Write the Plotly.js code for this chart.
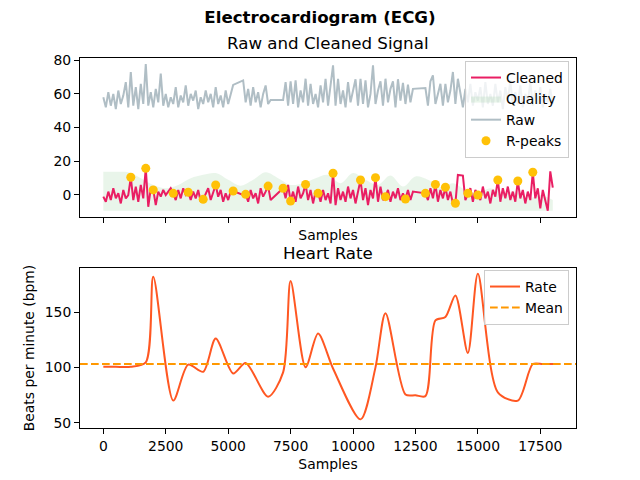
<!DOCTYPE html>
<html>
<head>
<meta charset="utf-8">
<script src="https://cdn.plot.ly/plotly-3.0.1.min.js"></script>
<style>html,body{margin:0;padding:0;background:#fff}#chart{width:640px;height:480px}</style>
</head>
<body>
<div id="chart"></div>
<script>
// ---------------- data ----------------
const sampleX = [0,100,200,300,400,500,600,700,800,900,
  1000,1100,1200,1300,1400,1500,1600,1700,1800,1900,
  2000,2100,2200,2300,2400,2500,2600,2700,2800,2900,
  3000,3100,3200,3300,3400,3500,3600,3700,3800,3900,
  4000,4100,4200,4300,4400,4500,4600,4700,4800,4900,
  5000,5100,5200,5600,5700,5800,5900,6000,6100,6200,
  6300,6400,6500,6600,6700,7200,7300,7400,7500,7600,
  7700,7800,7900,8000,8100,8200,8300,8400,8500,8600,
  8700,8800,8900,9000,9100,9200,9300,9400,9500,9600,
  9700,9800,9900,10000,10100,10200,10300,10400,10500,10600,
  10700,10800,10900,11000,11100,11200,11300,11400,11500,11600,
  11700,11800,11900,12000,12100,12200,12300,12400,12900,13000,
  13100,13200,13300,13400,13500,13600,13700,13800,13900,14000,
  14100,14200,14400,14500,14600,14700,14800,14900,15000,15100,
  15200,15300,15400,15500,15600,15700,15800,15900,16000,16100,
  16200,16300,16400,16500,16600,16700,16800,16900,17000,17100,
  17200,17300,17400,17500,17600,17700,17800,17900,18000];

const rawSignal = [58,52,61,53,60,51,62,54,59,67,
  52,73,53,64,51,66,54,77.7,53,61,
  52,63,55,72,53,60,52,58,54,64,
  52,59,55,65,53,60,56,62,51,58,
  54,62,55,60,52,64,54,59,52,62,
  54,60,65.3,68,55,63,53,64,55,61,
  52,60,65,54,56.4,56.4,67,53,67.5,54,
  68,52,62,55,69,53,66,54,60,52,
  65,55,69,53,66,77,53,69,54,62,
  52,67,55,61,68.7,53,69,54,68,52,
  60,77,54,62,67.5,53,69,55,63,67.5,
  52,68.7,56,66.5,54,65.5,55,63,63.5,53,
  67.5,71,54,60,66,53,66,55,62,73,
  54,69,52,63,55,66,53,61,56,64,
  52,67,54,60,53,66,55,62,51,64,
  56,68,53,61,54,65,52,60,55,67,
  53,62,54,64,52,60,55,63,54];

const cleanSignal = [-1,-4,2,-3,4,-2,1,-5,3,-2,
  0,10.5,-3,5,-4,6,-2,15.8,-7,4,
  3,-6,2,-1,3,0,2,4,1,-3,
  3,-2,4,0,1.6,-3,2,-2,3,-4,
  -2.6,1,4,-3,2,5.9,-1,3,-4,1,
  -3,2,2.4,0,0.4,-4,3,-2,1,-5,
  4,-1,2,5.3,-3,4,-2,6,-3.6,2,
  -4,5,-2,1,6.3,-3,3,-5,2,1,
  -4,3,-3,1,-5,12.9,-6,4,-3,2,
  -4,5,-2,3,-5,2,8.9,-3,4,-6,
  3,-2,10.3,-4,5,-3,-1,3,-4,2,
  -2,4,-3,1,-2.4,3,-3,2,1,-3,
  4,-2,6.3,-4,3,-2,4.6,-3,2,-5,
  -4.9,11.9,11.5,-3,1,4,-4,3,0,-3,
  5,-2,2,-5,3,-1,8.9,-4,4,-2,
  5,-3,2,-4,8.3,-2,3,-5,2,-3,
  13.5,-2,4,-8,3,-4,-9.3,14,4.4];

const qualityX = [0,500,1000,1500,2000,2500,3000,3500,4000,4500,
  5000,5500,6000,6500,7000,7500,8000,8500,9000,9500,
  10000,10500,11000,11500,12000,12500,13000,13500,14000,14500,
  15000,15500,16000,16500,17000,17500,18000];
const qualityY = [13.8,13.8,13.5,10,6,4,6,10,12,13,
  9,5.5,9,13.5,10,6,7,10,12,7,
  13,9,6,11.5,5,11,9,4.5,7,3,
  1,4,1,2,-2,0,-3];
const qualityFloor = -9.3;

const peakX = [1100,1700,2000,2800,3400,4000,4500,5200,5700,6600,7200,7500,8100,8600,
  9200,10300,10900,11300,12100,12900,13300,13700,14100,14600,15000,15800,16600,17200];
const peakY = [10.5,15.8,3,1,1.6,-2.6,5.9,2.4,0.4,5.3,4,-3.6,6.3,1,
  12.9,8.9,10.3,-1,-2.4,1,6.3,4.6,-4.9,1,0,8.9,8.3,13.5];

const rateX = [0,500,1100,1700,2000,2800,3400,4000,4500,5200,5700,6600,7200,7500,8100,
  8600,9200,10300,10900,11300,12100,12500,12900,13300,13700,14100,14600,15000,15800,
  16600,17200,17600,18050];
const rateY = [100.5,100.5,100.5,104.5,182,70,102.5,96,126,94.5,104,73.5,95.5,178,100,
  130.5,99,53,100,149,75.5,74.8,74,142.5,145.5,165,113,184.5,77.5,
  70,103,103,103];
const rateMean = 103;

const xTicks = [0,2500,5000,7500,10000,12500,15000,17500];
const yTopTicks = [0,20,40,60,80];
const yBotTicks = [50,100,150];

// ---------------- layout constants ----------------
const FONT = 'DejaVu Sans';
const xRange = [-934, 18930];
const plotT = 58, plotB = 428, plotL = 80, plotR = 576;
const ph = plotB - plotT;
const topAxisBottom = 217, botAxisTop = 268;
const py = p => (plotB - p) / ph;

const axisCommon = {
  showline: true, mirror: true, linecolor: '#000', linewidth: 1,
  ticks: 'outside', ticklen: 5, tickwidth: 1, tickcolor: '#000',
  showgrid: false, zeroline: false,
  tickfont: {family: FONT, size: 13.9, color: '#000'}
};

const traces = [
  {x: qualityX, y: qualityX.map(() => qualityFloor), mode: 'lines', line: {width: 0},
   showlegend: false, hoverinfo: 'skip', xaxis: 'x', yaxis: 'y'},
  {x: qualityX, y: qualityY, mode: 'lines', name: 'Quality', fill: 'tonexty',
   fillcolor: 'rgba(76,175,80,0.12)', line: {width: 0, shape: 'spline', smoothing: 1},
   legendrank: 2, xaxis: 'x', yaxis: 'y'},
  {x: sampleX, y: rawSignal, mode: 'lines', name: 'Raw', line: {color: '#B0BEC5', width: 2},
   legendrank: 3, xaxis: 'x', yaxis: 'y'},
  {x: sampleX, y: cleanSignal, mode: 'lines', name: 'Cleaned', line: {color: '#E91E63', width: 2},
   legendrank: 1, xaxis: 'x', yaxis: 'y'},
  {x: peakX, y: peakY, mode: 'markers', name: 'R-peaks',
   marker: {color: '#FFC107', size: 9, line: {width: 0}},
   legendrank: 4, xaxis: 'x', yaxis: 'y'},
  {x: rateX, y: rateY, mode: 'lines', name: 'Rate',
   line: {color: '#FF5722', width: 2, shape: 'spline', smoothing: 0.8},
   legend: 'legend2', legendrank: 1, xaxis: 'x2', yaxis: 'y2'},
  {x: xRange, y: [rateMean, rateMean], mode: 'lines', name: 'Mean',
   line: {color: '#FF9800', width: 2, dash: '7.7px,3.3px'},
   legend: 'legend2', legendrank: 2, xaxis: 'x2', yaxis: 'y2'}
];

const legendCommon = {
  bgcolor: 'rgba(255,255,255,0.8)', bordercolor: '#cccccc', borderwidth: 1,
  font: {family: FONT, size: 13.9, color: '#000'}, traceorder: 'normal',
  xanchor: 'right', yanchor: 'top', xref: 'paper', yref: 'paper'
};

const layout = {
  width: 640, height: 480,
  margin: {l: plotL, r: 640 - plotR, t: plotT, b: 480 - plotB, pad: 0},
  paper_bgcolor: '#fff', plot_bgcolor: '#fff',
  font: {family: FONT, size: 13.9, color: '#000'},
  showlegend: true,
  title: {text: '<b>Electrocardiogram (ECG)</b>', font: {family: FONT, size: 16.67, color: '#000'},
          x: 0.5, xref: 'container', xanchor: 'center', y: 1 - 17 / 480, yref: 'container', yanchor: 'middle'},
  xaxis: Object.assign({}, axisCommon, {anchor: 'y', range: xRange, tickvals: xTicks, showticklabels: false,
          title: {text: 'Samples', font: {family: FONT, size: 13.9, color: '#000'}, standoff: 8}, automargin: false}),
  yaxis: Object.assign({}, axisCommon, {domain: [py(topAxisBottom), 1], range: [-13.06, 81.3], tickvals: yTopTicks, automargin: false}),
  xaxis2: Object.assign({}, axisCommon, {anchor: 'y2', range: xRange, tickvals: xTicks, tickformat: 'd',
          title: {text: 'Samples', font: {family: FONT, size: 13.9, color: '#000'}, standoff: 6}, automargin: false}),
  yaxis2: Object.assign({}, axisCommon, {domain: [0, py(botAxisTop)], range: [45.2, 189.8], tickvals: yBotTicks, automargin: false,
          title: {text: 'Beats per minute (bpm)', font: {family: FONT, size: 13.9, color: '#000'}, standoff: 6}}),
  legend: Object.assign({}, legendCommon, {x: (569 - plotL) / (plotR - plotL), y: py(61)}),
  legend2: Object.assign({}, legendCommon, {x: (569 - plotL) / (plotR - plotL), y: py(270)}),
  annotations: [
    {text: 'Raw and Cleaned Signal', xref: 'paper', yref: 'paper', x: 0.5, y: py(44), xanchor: 'center', yanchor: 'middle',
     showarrow: false, font: {family: FONT, size: 16.67, color: '#000'}},
    {text: 'Heart Rate', xref: 'paper', yref: 'paper', x: 0.5, y: py(254), xanchor: 'center', yanchor: 'middle',
     showarrow: false, font: {family: FONT, size: 16.67, color: '#000'}}
  ]
};

Plotly.newPlot('chart', traces, layout, {staticPlot: true, displayModeBar: false});
</script>
</body>
</html>
